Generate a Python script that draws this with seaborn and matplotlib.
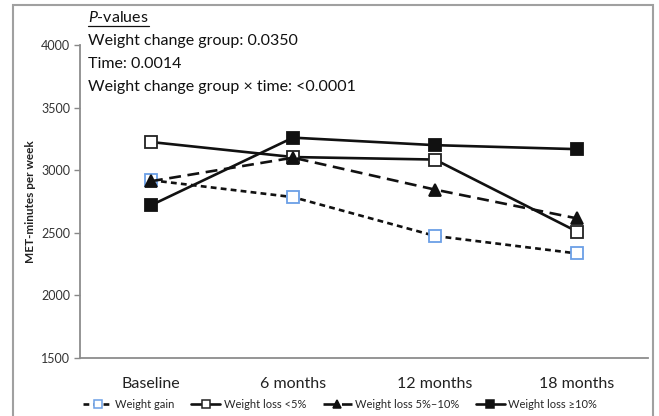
import pandas as pd
import numpy as np
import matplotlib
matplotlib.use('Agg')
import matplotlib.pyplot as plt
import seaborn as sns
from matplotlib.lines import Line2D
from matplotlib.patches import Rectangle

# data
timepoints = ['Baseline', '6 months', '12 months', '18 months']
groups = ['Weight gain', 'Weight loss <5%', 'Weight loss 5%\u201310%', 'Weight loss \u226510%']
weight_gain = [2920, 2785, 2475, 2335]
loss_lt5 = [3225, 3105, 3085, 2510]
loss_5_10 = [2912, 3100, 2845, 2615]
loss_ge10 = [2720, 3260, 3200, 3168]
pvalue_lines = ['Weight change group: 0.0350', 'Time: 0.0014',
                'Weight change group \u00d7 time: <0.0001']

df = pd.DataFrame({
    'time': timepoints * 4,
    'group': np.repeat(groups, 4),
    'met': weight_gain + loss_lt5 + loss_5_10 + loss_ge10,
})

sns.set_style('white')
plt.rcParams['font.family'] = ['Lato', 'DejaVu Sans']
plt.rcParams['mathtext.fontset'] = 'custom'
plt.rcParams['mathtext.it'] = 'Lato:italic'
plt.rcParams['mathtext.rm'] = 'Lato'

styles = {
    groups[0]: dict(linestyle=(0, (2.2, 1.6)), marker='s', markerfacecolor='white',
                    markeredgecolor='#6b9fe6'),
    groups[1]: dict(linestyle='-', marker='s', markerfacecolor='white',
                    markeredgecolor='#222222'),
    groups[2]: dict(linestyle=(0, (4.5, 2.5)), marker='^', markerfacecolor='#111111',
                    markeredgecolor='#111111'),
    groups[3]: dict(linestyle='-', marker='s', markerfacecolor='#111111',
                    markeredgecolor='#111111'),
}

fig = plt.figure(figsize=(6.59, 4.16), dpi=100)
ax = fig.add_axes([80 / 659, 1 - 358 / 416, 568 / 659, 313 / 416])

handles = []
for g in groups:
    sub = df[df['group'] == g]
    st = styles[g]
    sns.lineplot(data=sub, x='time', y='met', ax=ax, color='#111111', sort=False,
                 linewidth=1.9, markersize=8.5, markeredgewidth=1.3, **st)
    handles.append(Line2D([], [], color='#111111', linewidth=1.9, markersize=6,
                          markeredgewidth=1.1, label=g, **st))

ax.set_xlim(-0.5, 3.5)
ax.set_ylim(1500, 4000)
ax.set_yticks([1500, 2000, 2500, 3000, 3500, 4000])
ax.set_xlabel('')
ax.set_ylabel('MET-minutes per week', fontsize=8.5, fontweight='bold', color='#222222')
ax.tick_params(axis='y', labelsize=9, length=4, width=1, color='#888888',
               labelcolor='#333333', left=True, direction='out', pad=3)
ax.tick_params(axis='x', labelsize=11.5, length=0, labelcolor='#222222', pad=14)
sns.despine(ax=ax)
for s in ['left', 'bottom']:
    ax.spines[s].set_color('#8c8c8c')
    ax.spines[s].set_linewidth(1.3)
ax.spines['bottom'].set_bounds(-0.5, 3.5)

# p-value annotations
ytop = 18
title = fig.text(88 / 659, 1 - ytop / 416, r'$\it{P}$-values', fontsize=11.5,
                 va='center', ha='left', color='#111111')
for i, line in enumerate(pvalue_lines):
    fig.text(88 / 659, 1 - (ytop + 23 * (i + 1)) / 416, line, fontsize=11.5,
             va='center', ha='left', color='#111111')

fig.canvas.draw()
bb = title.get_window_extent().transformed(fig.transFigure.inverted())
fig.add_artist(Line2D([bb.x0, bb.x1], [bb.y0 - 0.002, bb.y0 - 0.002],
                      transform=fig.transFigure, color='#111111', linewidth=0.9))

ax.legend(handles=handles, loc='center', bbox_to_anchor=(340 / 659, 12 / 416),
          bbox_transform=fig.transFigure, ncol=4, frameon=False, fontsize=8,
          handlelength=2.6, columnspacing=1.5, handletextpad=0.3)

# grey frame around the figure
fig.add_artist(Rectangle((13 / 659, -0.05), 640 / 659, 1.05 - 5 / 416,
                         transform=fig.transFigure, fill=False,
                         edgecolor='#a0a0a0', linewidth=1.5))

fig.savefig('out.png', dpi=100)
plt.close()
